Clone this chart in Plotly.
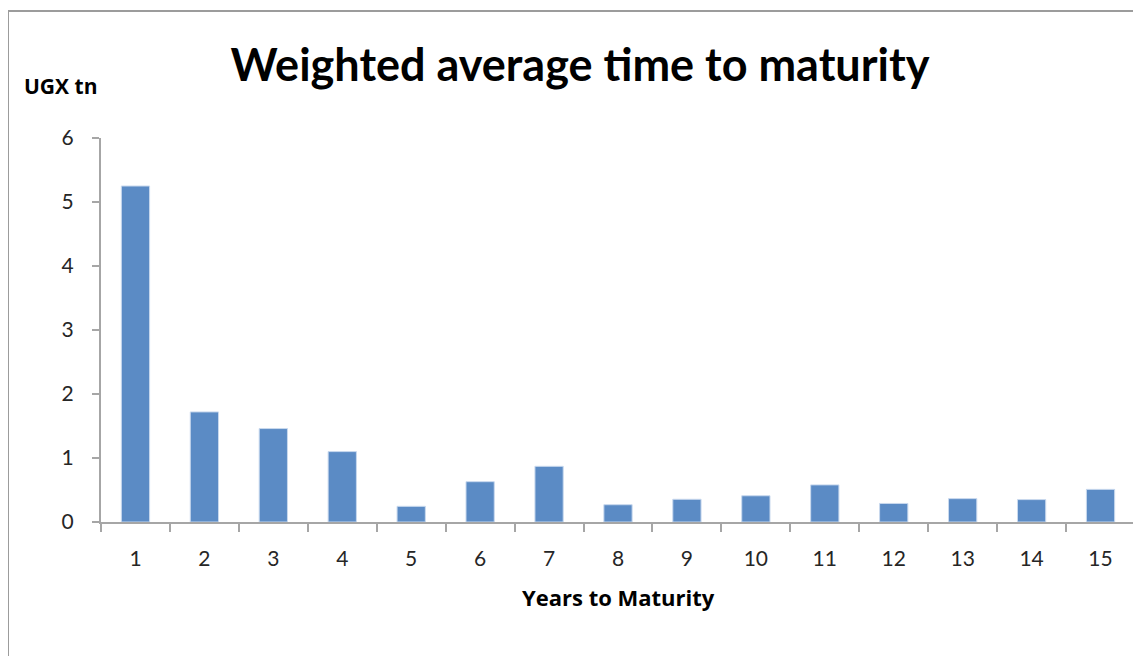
import plotly.graph_objects as go

years = [str(i) for i in range(1, 16)]
values = [5.25, 1.72, 1.46, 1.10, 0.245, 0.63, 0.87, 0.27, 0.355, 0.41, 0.58, 0.29, 0.365, 0.35, 0.51]
y_ticks = [0, 1, 2, 3, 4, 5, 6]

title_text = "Weighted average time to maturity"
y_unit = "UGX tn"
x_title = "Years to Maturity"

TITLE_FONT = "Lato, 'Open Sans', sans-serif"
LABEL_FONT = "'Open Sans', Lato, sans-serif"
TICK_FONT = "Lato, 'Open Sans', sans-serif"
AXIS_GRAY = "#a6a6a6"

fig = go.Figure(
    go.Bar(
        x=years,
        y=values,
        marker=dict(color="#5b8bc5", line=dict(color="#c9d9ee", width=1)),
        hoverinfo="x+y",
    )
)

# page body has an 8px margin, so the figure is sized to fill the rest of the window
OFF = 8
W, H = 1141 - OFF, 656 - OFF
L, R, T, B = 101 - OFF, 6, 138 - OFF, 656 - 522
pw = W - L - R
ph = H - T - B

def px_x(px):
    return (px - OFF - L) / pw

def px_y(py):
    return (H - B - (py - OFF)) / ph

fig.update_layout(
    width=W,
    height=H,
    margin=dict(l=L, r=R, t=T, b=B, pad=0),
    paper_bgcolor="white",
    plot_bgcolor="white",
    bargap=0.59,
    showlegend=False,
    font=dict(family=TICK_FONT, color="#262626"),
    title=dict(
        text=f"<b>{title_text}</b>",
        x=(580 - OFF) / W,
        xanchor="center",
        xref="container",
        y=1 - (65 - OFF) / H,
        yref="container",
        yanchor="middle",
        font=dict(family=TITLE_FONT, size=45, color="#000000"),
    ),
    xaxis=dict(
        type="category",
        range=[-0.5, 14.5],
        showgrid=False,
        showline=True,
        linecolor=AXIS_GRAY,
        linewidth=2,
        ticks="outside",
        tickson="boundaries",
        ticklen=8,
        tickwidth=2,
        tickcolor=AXIS_GRAY,
        tickfont=dict(family=TICK_FONT, size=21, color="#262626"),
        ticklabelstandoff=17,
        zeroline=False,
        fixedrange=True,
    ),
    yaxis=dict(
        range=[0, 6],
        tickvals=y_ticks,
        showgrid=False,
        showline=True,
        linecolor=AXIS_GRAY,
        linewidth=2,
        ticks="outside",
        ticklen=7,
        tickwidth=2,
        tickcolor=AXIS_GRAY,
        tickfont=dict(family=TICK_FONT, size=21, color="#262626"),
        ticklabelstandoff=14,
        zeroline=False,
        fixedrange=True,
    ),
    annotations=[
        dict(
            text=f"<b>{y_unit}</b>",
            xref="paper", yref="paper",
            x=px_x(22), y=px_y(86),
            xanchor="left", yanchor="middle",
            showarrow=False,
            font=dict(family=LABEL_FONT, size=21, color="#000000"),
        ),
        dict(
            text=f"<b>{x_title}</b>",
            xref="paper", yref="paper",
            x=px_x(618), y=px_y(597),
            xanchor="center", yanchor="middle",
            showarrow=False,
            font=dict(family=LABEL_FONT, size=22, color="#000000"),
        ),
    ],
    shapes=[
        dict(
            type="rect",
            xref="paper", yref="paper",
            x0=px_x(8), x1=px_x(1170),
            y0=px_y(700), y1=px_y(11),
            line=dict(color="#9c9c9c", width=2),
            fillcolor="rgba(0,0,0,0)",
            layer="below",
        )
    ],
)

fig.write_html("out.html")
